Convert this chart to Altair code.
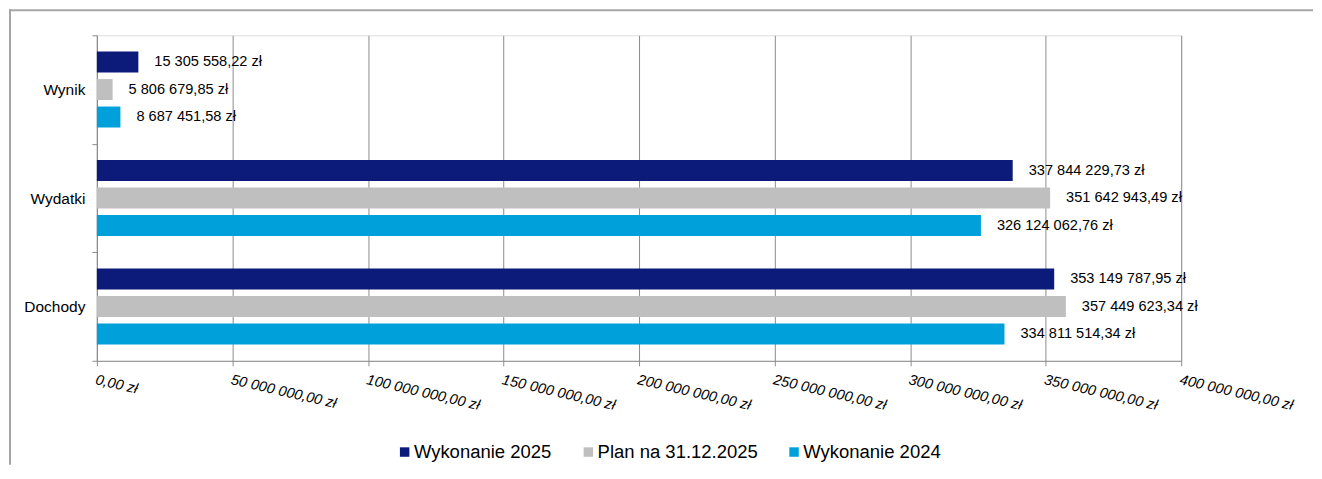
import altair as alt
import pandas as pd

categories = ["Wynik", "Wydatki", "Dochody"]
series = ["Wykonanie 2025", "Plan na 31.12.2025", "Wykonanie 2024"]
wykonanie_2025 = [15305558.22, 337844229.73, 353149787.95]
plan_2025 = [5806679.85, 351642943.49, 357449623.34]
wykonanie_2024 = [8687451.58, 326124062.76, 334811514.34]
colors = ["#0C1B7A", "#BFBFBF", "#00A0DA"]
x_ticks = [0, 50000000, 100000000, 150000000, 200000000,
           250000000, 300000000, 350000000, 400000000]


def fmt(v):
    return f"{v:,.2f}".replace(",", " ").replace(".", ",") + " zł"


rows = []
for s, vals in zip(series, [wykonanie_2025, plan_2025, wykonanie_2024]):
    for c, v in zip(categories, vals):
        rows.append({"kategoria": c, "seria": s, "wartosc": v, "etykieta": fmt(v)})
df = pd.DataFrame(rows)

GRID = "#8C8C8C"
FONT = "Liberation Sans"

y_enc = alt.Y(
    "kategoria:N", sort=categories, title=None,
    scale=alt.Scale(paddingInner=0, paddingOuter=0),
    axis=alt.Axis(tickBand="extent", grid=False, domainColor=GRID, tickColor=GRID,
                  tickSize=5, labelPadding=7, labelFontSize=15.5, labelColor="#000000",
                  labelFont=FONT),
)
yoff_enc = alt.YOffset("seria:N", sort=series,
                       scale=alt.Scale(paddingInner=0.236, paddingOuter=0.594))
x_enc = alt.X(
    "wartosc:Q", title=None,
    scale=alt.Scale(domain=[0, 400000000], nice=False),
    axis=alt.Axis(
        values=x_ticks,
        labelExpr="replace(replace(format(datum.value, ',.2f'), regexp(',', 'g'), ' '), '.', ',') + ' zł'",
        labelAngle=13, labelAlign="left", labelBaseline="top", labelPadding=6,
        labelFontSize=14.6, labelFontStyle="italic", labelColor="#000000", labelFont=FONT,
        grid=True, gridColor=GRID, gridWidth=1, domainColor=GRID, tickColor=GRID,
        tickSize=5, labelOverlap=False, labelFlush=False,
    ),
)

bars = alt.Chart(df).mark_bar().encode(
    x=x_enc,
    y=y_enc,
    yOffset=yoff_enc,
    color=alt.Color(
        "seria:N", sort=series,
        scale=alt.Scale(domain=series, range=colors),
        legend=alt.Legend(
            orient="none", legendX=299, legendY=408, direction="horizontal",
            title=None, labelFontSize=18.5, labelFont=FONT, labelColor="#000000",
            labelLimit=400,
            symbolType="square", symbolSize=90, symbolStrokeWidth=0,
            columnPadding=27, labelOffset=0,
        ),
    ),
)

texts = alt.Chart(df).mark_text(
    align="left", baseline="middle", dx=16, fontSize=14.6, font=FONT, color="#000000"
).encode(
    x=alt.X("wartosc:Q"),
    y=alt.Y("kategoria:N", sort=categories),
    yOffset=alt.YOffset("seria:N", sort=series),
    text="etykieta:N",
)

frame_df = pd.DataFrame({"k": [0]})
frame_v = alt.Chart(frame_df).mark_rule(color="#A6A6A6", strokeWidth=2).encode(
    x=alt.value(-87), y=alt.value(-26), y2=alt.value(430)
)
frame_h = alt.Chart(frame_df).mark_rule(color="#A6A6A6", strokeWidth=2).encode(
    x=alt.value(-88), x2=alt.value(1218), y=alt.value(-25)
)

chart = alt.layer(bars, texts, frame_v, frame_h).properties(
    width=1086, height=326, padding=0
).configure_view(stroke=None).configure(font=FONT)

chart.save("out.html", embed_options={"renderer": "svg", "actions": False})
